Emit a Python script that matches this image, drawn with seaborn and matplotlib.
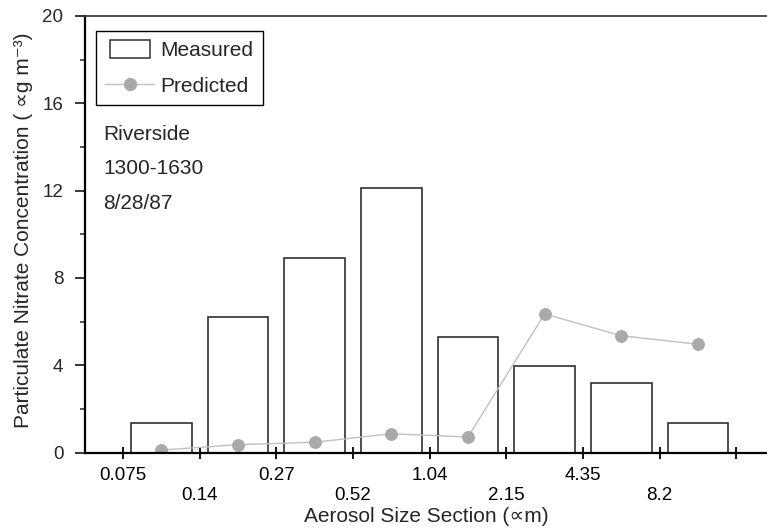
import matplotlib
matplotlib.use('Agg')
import matplotlib.pyplot as plt
from matplotlib.patches import Patch, Rectangle
from matplotlib.lines import Line2D
from matplotlib.legend_handler import HandlerPatch
from matplotlib.ticker import MultipleLocator
import numpy as np
import pandas as pd
import seaborn as sns

# data
sections = [0, 1, 2, 3, 4, 5, 6, 7]
measured = [1.34, 6.22, 8.92, 12.12, 5.30, 3.95, 3.20, 1.36]
predicted = [0.11, 0.36, 0.47, 0.86, 0.71, 6.35, 5.35, 4.96]
size_labels = ['0.075', '0.14', '0.27', '0.52', '1.04', '2.15', '4.35', '8.2']
site_notes = ['Riverside', '1300-1630', '8/28/87']

sns.set_style('ticks')
plt.rcParams['font.family'] = ['Liberation Sans', 'DejaVu Sans']
plt.rcParams['font.size'] = 15

df = pd.DataFrame({'section': sections, 'measured': measured, 'predicted': predicted})

fig = plt.figure(figsize=(7.67, 5.31), dpi=100)
ax = fig.add_axes([0.1108, 0.1478, 0.8892, 0.8221])

bar_edge = '#303030'
line_col = '#c0c0c0'
dot_col = '#a9a9a9'

sns.barplot(data=df, x='section', y='measured', color='white', saturation=1,
            edgecolor=bar_edge, linewidth=1.2, width=0.79, ax=ax)
sns.lineplot(data=df, x='section', y='predicted', color=line_col, linewidth=1,
             marker='o', markersize=8.5, markerfacecolor=dot_col,
             markeredgecolor=dot_col, ax=ax)

# x ticks sit on the section boundaries, labels staggered in two rows
bounds = np.arange(len(sections) + 1) - 0.5
ax.set_xticks(bounds[0::2])
ax.set_xticklabels(size_labels[0::2] + [''])
ax.set_xticks(bounds[1::2], minor=True)
ax.set_xticklabels(size_labels[1::2], minor=True)
ax.tick_params(axis='x', which='both', direction='inout', length=8, width=1.3,
               colors='black', labelsize=13.5)
ax.tick_params(axis='x', which='major', pad=6.5)
ax.tick_params(axis='x', which='minor', pad=21)

ax.set_ylim(0, 20)
ax.set_yticks(range(0, 21, 4))
ax.yaxis.set_minor_locator(MultipleLocator(2))
ax.tick_params(axis='y', which='major', direction='out', length=7, width=1.3,
               pad=8.5, labelsize=13.5)
ax.tick_params(axis='y', which='minor', direction='out', length=3.5, width=1.1)
ax.set_xlim(-0.995, 7.9)

ax.spines['right'].set_visible(False)
for s in ['left', 'bottom']:
    ax.spines[s].set_linewidth(1.6)
    ax.spines[s].set_color('black')
ax.spines['top'].set_linewidth(1.3)
ax.spines['top'].set_color('#404040')

ax.set_xlabel('Aerosol Size Section (∝m)')
ax.set_ylabel('Particulate Nitrate Concentration ( ∝g m⁻³)')
ax.xaxis.set_label_coords(0.5, -0.125)
ax.yaxis.set_label_coords(-0.0765, 0.51)

for i, note in enumerate(site_notes):
    ax.text(0.0268, 0.716 - i * 0.079, note, transform=ax.transAxes,
            ha='left', va='baseline')


def narrow_rect(legend, orig_handle, xdescent, ydescent, width, height, fontsize):
    return Rectangle((-xdescent + 0.1 * width, -ydescent), 0.8 * width, height)


handles = [Patch(facecolor='white', edgecolor=bar_edge, linewidth=1.1),
           Line2D([], [], color=line_col, linewidth=1, marker='o', markersize=8.5,
                  markerfacecolor=dot_col, markeredgecolor=dot_col)]
leg = ax.legend(handles, ['Measured', 'Predicted'], loc='upper left',
                bbox_to_anchor=(0.016, 0.966), borderaxespad=0, fancybox=False,
                framealpha=1, edgecolor='black', handlelength=2.36, handleheight=0.96,
                handletextpad=0.3, labelspacing=0.74, borderpad=0.45,
                handler_map={Patch: HandlerPatch(patch_func=narrow_rect)})
leg.get_frame().set_linewidth(1.0)

fig.savefig('out.png', dpi=100)
